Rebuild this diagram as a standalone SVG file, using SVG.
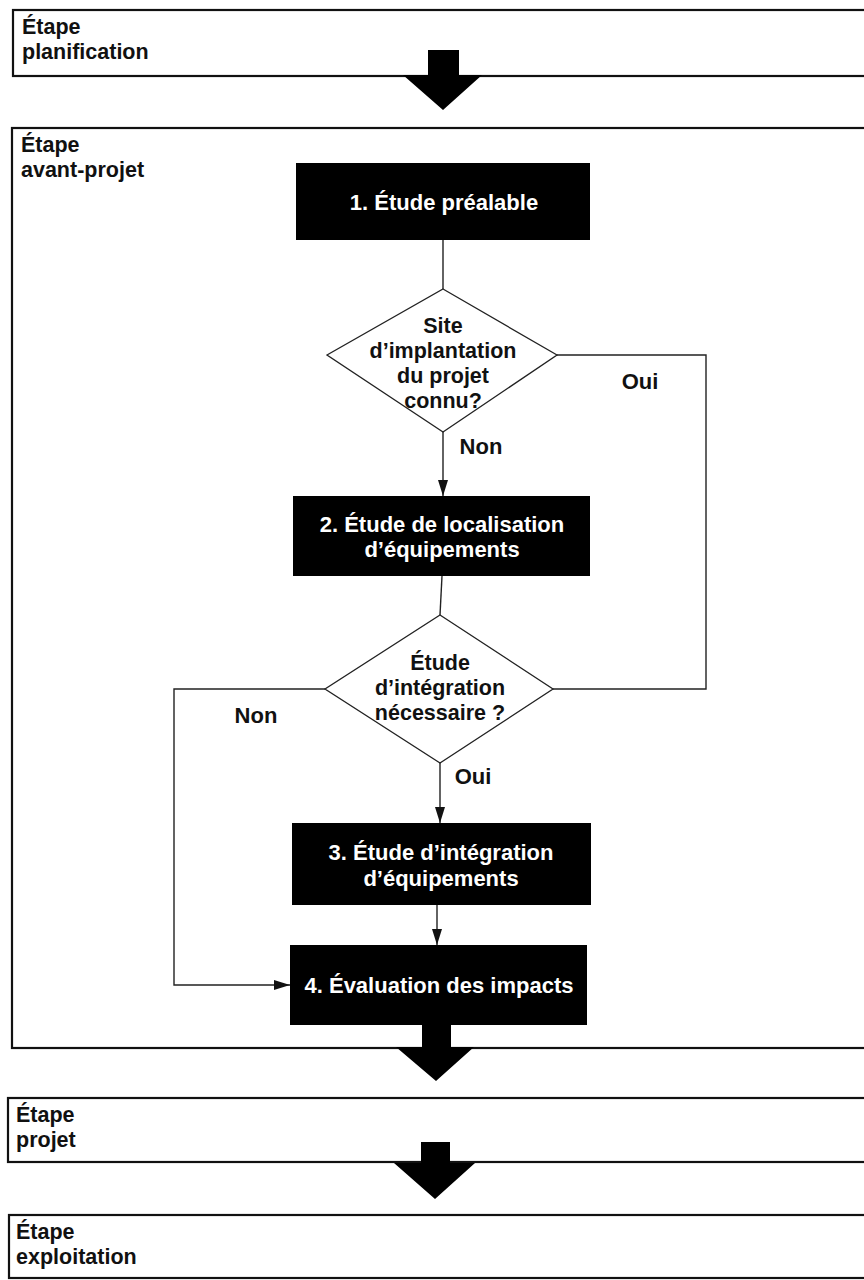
<svg xmlns="http://www.w3.org/2000/svg" width="864" height="1280" viewBox="0 0 864 1280">
<style>
.stage{fill:#fff;stroke:#111;stroke-width:2.2}
.proc{fill:#000}
.dec{fill:#fff;stroke:#222;stroke-width:1.3}
.t{font-family:"Liberation Sans",Arial,sans-serif;font-weight:700;font-size:21.5px;fill:#111}
.w{font-family:"Liberation Sans",Arial,sans-serif;font-weight:700;font-size:22px;fill:#fff;text-anchor:middle}
.d{font-family:"Liberation Sans",Arial,sans-serif;font-weight:700;font-size:21.5px;fill:#111;text-anchor:middle}
.l{font-family:"Liberation Sans",Arial,sans-serif;font-weight:700;font-size:22px;fill:#111;text-anchor:middle}
.c{fill:none;stroke:#222;stroke-width:1.4}
.big{fill:#000}
</style>
<defs>
<marker id="ah" viewBox="0 0 16 10" refX="16" refY="5" markerWidth="16" markerHeight="10" markerUnits="userSpaceOnUse" orient="auto">
<path d="M0,0 L16,5 L0,10 Z" fill="#111"/>
</marker>
</defs>

<g id="stage-planification">
<rect class="stage" x="13" y="10" width="870" height="66"/>
<text class="t" x="22" y="34">Étape<tspan x="22" dy="25">planification</tspan></text>
</g>

<g id="stage-avant-projet">
<rect class="stage" x="12" y="128" width="870" height="920"/>
<text class="t" x="21" y="152">Étape<tspan x="21" dy="25">avant-projet</tspan></text>
</g>

<g id="stage-projet">
<rect class="stage" x="8" y="1098" width="875" height="64"/>
<text class="t" x="16" y="1122">Étape<tspan x="16" dy="25">projet</tspan></text>
</g>

<g id="stage-exploitation">
<rect class="stage" x="9" y="1215" width="875" height="63"/>
<text class="t" x="16" y="1239">Étape<tspan x="16" dy="25">exploitation</tspan></text>
</g>

<g id="n1">
<rect class="proc" x="296" y="163" width="294" height="77"/>
<text class="w" x="444" y="210">1. Étude préalable</text>
</g>

<g id="d1">
<polygon class="dec" points="443,289 557,355 443,432 327,355"/>
<text class="d" x="443" y="333">Site<tspan x="443" dy="25">d’implantation</tspan><tspan x="443" dy="25">du projet</tspan><tspan x="443" dy="25">connu?</tspan></text>
</g>

<g id="n2">
<rect class="proc" x="293" y="496" width="297" height="80"/>
<text class="w" x="442" y="532">2. Étude de localisation<tspan x="442" dy="25">d’équipements</tspan></text>
</g>

<g id="d2">
<polygon class="dec" points="440,615 553,689 440,763 325,689"/>
<text class="d" x="440" y="670">Étude<tspan x="440" dy="25">d’intégration</tspan><tspan x="440" dy="25">nécessaire ?</tspan></text>
</g>

<g id="n3">
<rect class="proc" x="292" y="823" width="299" height="82"/>
<text class="w" x="441" y="860">3. Étude d’intégration<tspan x="441" dy="26">d’équipements</tspan></text>
</g>

<g id="n4">
<rect class="proc" x="290" y="945" width="297" height="80"/>
<text class="w" x="439" y="993">4. Évaluation des impacts</text>
</g>

<g id="connectors">
<line class="c" x1="443" y1="240" x2="443" y2="289"/>
<line class="c" x1="443" y1="432" x2="443" y2="496" marker-end="url(#ah)"/>
<line class="c" x1="442" y1="576" x2="440" y2="615"/>
<polyline class="c" points="557,355 706,355 706,689 553,689"/>
<line class="c" x1="440" y1="763" x2="440" y2="823" marker-end="url(#ah)"/>
<line class="c" x1="437" y1="905" x2="437" y2="945" marker-end="url(#ah)"/>
<polyline class="c" points="325,689 174,689 174,985 290,985" marker-end="url(#ah)"/>
<text class="l" x="481" y="454">Non</text>
<text class="l" x="640" y="389">Oui</text>
<text class="l" x="256" y="723">Non</text>
<text class="l" x="473" y="784">Oui</text>
<polygon class="big" points="428,50 459,50 459,75 482,75 443,110 403,75 428,75"/>
<polygon class="big" points="422,1024 451,1024 451,1047 474,1047 436,1081 396,1047 422,1047"/>
<polygon class="big" points="421,1142 450,1142 450,1163 475,1163 435,1199 394,1163 421,1163"/>
</g>
</svg>
